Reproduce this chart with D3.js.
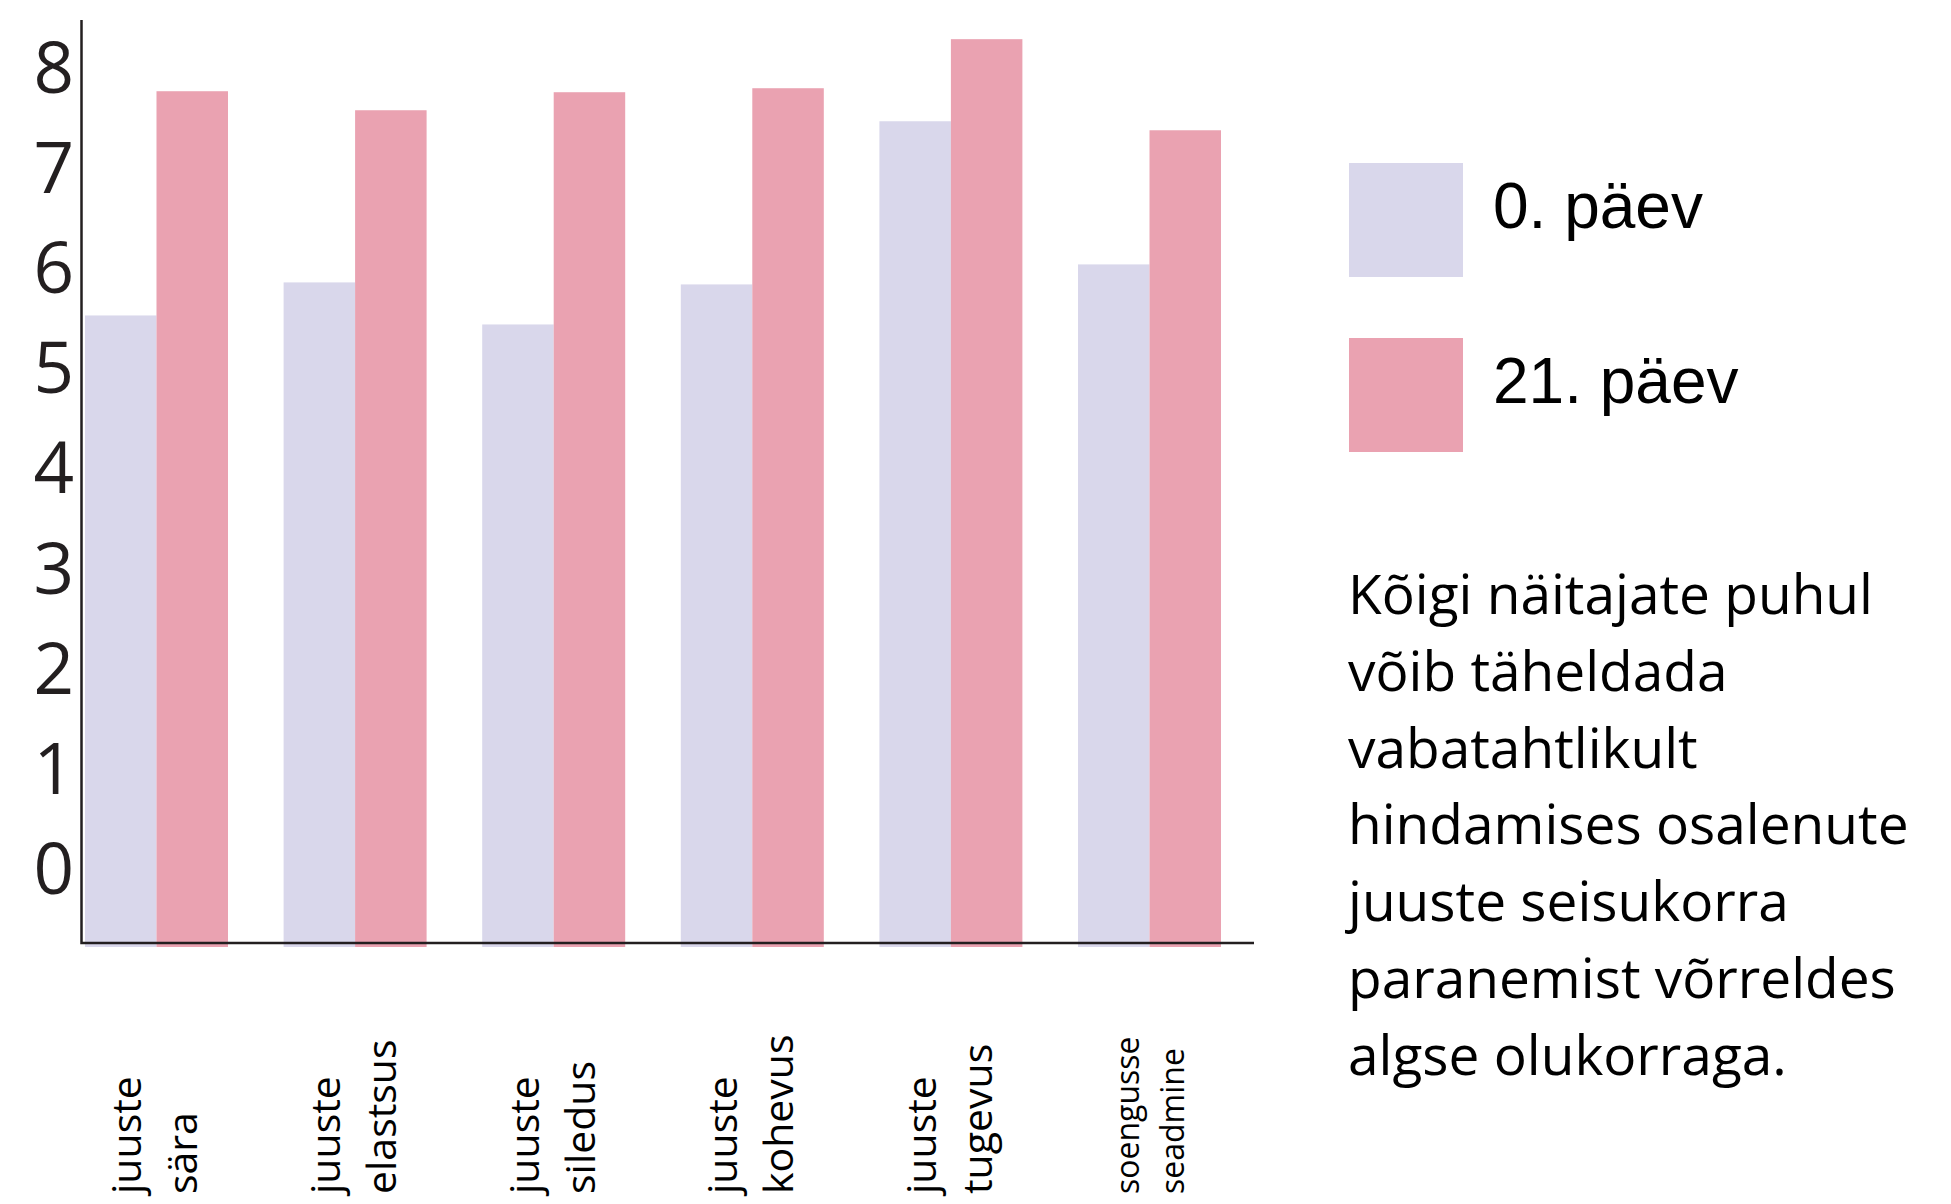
<!DOCTYPE html>
<html>
<head>
<meta charset="utf-8">
<script src="https://cdn.jsdelivr.net/npm/d3@7"></script>
<style>
  html, body { margin: 0; padding: 0; background: #ffffff; overflow: hidden; }
  svg { display: block; }
</style>
</head>
<body>
<svg id="chart" width="1951" height="1204"></svg>
<script>
// ---------- data ----------
const categories = ["juuste sära", "juuste elastsus", "juuste siledus", "juuste kohevus", "juuste tugevus", "soengusse seadmine"];
const categoryLines = [["juuste", "sära"], ["juuste", "elastsus"], ["juuste", "siledus"], ["juuste", "kohevus"], ["juuste", "tugevus"], ["soengusse", "seadmine"]];
const seriesNames = ["0. päev", "21. päev"];
const day0Values = [5.52, 5.85, 5.43, 5.83, 7.46, 6.03];
const day21Values = [7.76, 7.57, 7.75, 7.79, 8.28, 7.37];
const yTickValues = [0, 1, 2, 3, 4, 5, 6, 7, 8];
const noteLines = [
  "Kõigi näitajate puhul",
  "võib täheldada",
  "vabatahtlikult",
  "hindamises osalenute",
  "juuste seisukorra",
  "paranemist võrreldes",
  "algse olukorraga."
];

// ---------- style / layout ----------
const seriesColors = ["#D9D7EB", "#EAA2B1"];
const axisColor = "#231F20";
const W = 1951, H = 1204;
const plot = { left: 81.5, top: 20, right: 1254, bottom: 943 };

const svg = d3.select("#chart");
svg.append("rect").attr("width", W).attr("height", H).attr("fill", "#ffffff");

const x0 = d3.scaleBand().domain(categories).range([85, 1221]).paddingInner(0.28).paddingOuter(0);
const x1 = d3.scaleBand().domain(seriesNames).range([0, x0.bandwidth()]).padding(0);
const y = d3.scaleLinear().domain([0, 8]).range([868, 67.2]);
const color = d3.scaleOrdinal().domain(seriesNames).range(seriesColors);

const rows = categories.map((c, i) => ({ cat: c, values: [day0Values[i], day21Values[i]] }));

// bars
const groups = svg.append("g").selectAll("g").data(rows).join("g")
  .attr("transform", d => `translate(${x0(d.cat)},0)`);
groups.selectAll("rect")
  .data(d => d.values.map((v, j) => ({ name: seriesNames[j], v })))
  .join("rect")
  .attr("x", d => x1(d.name))
  .attr("width", x1.bandwidth())
  .attr("y", d => y(d.v))
  .attr("height", d => plot.bottom + 4 - y(d.v))
  .attr("fill", d => color(d.name));

// axis lines
svg.append("path")
  .attr("d", `M${plot.left},${plot.top}V${plot.bottom}H${plot.right}`)
  .attr("fill", "none")
  .attr("stroke", axisColor)
  .attr("stroke-width", 2.5);

// y tick labels
const yAxis = d3.axisLeft(y).tickValues(yTickValues).tickSize(0).tickPadding(0).tickFormat(d3.format("d"));
const yg = svg.append("g").attr("transform", "translate(74,0)").call(yAxis);
yg.select(".domain").remove();
yg.selectAll("text")
  .attr("dy", "0.357em")
  .attr("fill", axisColor)
  .style("font-family", "'Open Sans', sans-serif")
  .style("font-size", "71px");

// category labels (rotated)
const labelG = svg.append("g").selectAll("g").data(categories).join("g")
  .attr("transform", c => `translate(${x0(c) + x0.bandwidth() / 2},1194) rotate(-90)`);
labelG.each(function (c, i) {
  const small = c === "soengusse seadmine";
  const size = small ? 32 : 41;
  const offsets = small ? [-11, 34] : [-15, 41];
  const t = d3.select(this).append("text")
    .attr("text-anchor", "start")
    .attr("fill", "#000")
    .style("font-family", "'Open Sans', sans-serif")
    .style("font-size", size + "px");
  categoryLines[i].forEach((line, k) => {
    t.append("tspan").attr("x", 0).attr("y", offsets[k]).text(line);
  });
});

// legend
const legend = svg.append("g").selectAll("g").data(seriesNames).join("g")
  .attr("transform", (d, i) => `translate(1349,${163 + i * 175})`);
legend.append("rect").attr("width", 114).attr("height", 114).attr("fill", d => color(d));
legend.append("text")
  .attr("x", 144).attr("y", 65)
  .attr("fill", "#000")
  .style("font-family", "'Liberation Sans', Arial, sans-serif")
  .style("font-size", "64px")
  .text(d => d);

// note paragraph
svg.append("text")
  .attr("fill", "#000")
  .style("font-family", "'Open Sans', sans-serif")
  .style("font-size", "55px")
  .selectAll("tspan").data(noteLines).join("tspan")
  .attr("x", 1348)
  .attr("y", (d, i) => 614 + i * 76.8)
  .text(d => d);
</script>
</body>
</html>
